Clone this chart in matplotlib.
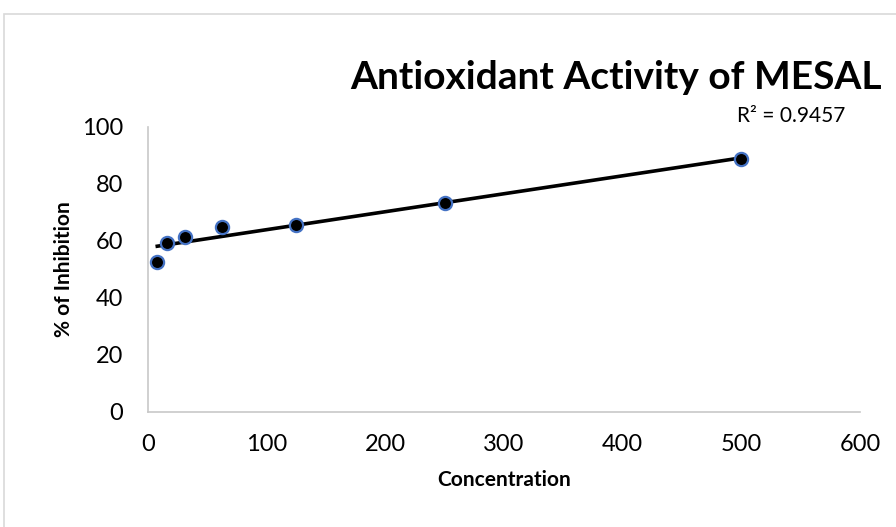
#Antioxidant activity scatter with linear trendline
import numpy as np
import matplotlib.pyplot as plt
from matplotlib.patches import Rectangle

plt.rcParams['font.family'] = ['Lato', 'DejaVu Sans']

concentration = [7.8125, 15.625, 31.25, 62.5, 125, 250, 500]
inhibition = [52.6, 59.3, 61.4, 64.8, 65.5, 73.3, 88.6]
x_ticks = [0, 100, 200, 300, 400, 500, 600]
y_ticks = [0, 20, 40, 60, 80, 100]

fig = plt.figure(figsize=(8.96, 5.27), dpi=100)
ax = fig.add_axes([0.1652, 0.2188, 0.7946, 0.5408])

# chart area frame (right and bottom edges fall outside the picture)
fig.patches.append(Rectangle((4 / 896, -0.1), 1.1, 0.1 + (527 - 14) / 527,
                             transform=fig.transFigure, fill=False,
                             edgecolor="#d9d9d9", linewidth=1.2))

# linear trendline
slope, intercept = np.polyfit(concentration, inhibition, 1)
xs = np.array([min(concentration), max(concentration)])
ax.plot(xs, slope * xs + intercept, color="black", linewidth=2.6, zorder=2)

ax.plot(concentration, inhibition, linestyle="none", marker="o",
        markersize=9.5, markerfacecolor="black", markeredgecolor="#4472c4",
        markeredgewidth=1.6, zorder=3)

ax.set_xlim(0, 600)
ax.set_ylim(0, 100)
ax.set_xticks(x_ticks)
ax.set_yticks(y_ticks)
ax.tick_params(length=0, labelsize=17, pad=16, colors="black")
ax.tick_params(axis="y", pad=18)

for s in ["top", "right"]:
    ax.spines[s].set_visible(False)
for s in ["left", "bottom"]:
    ax.spines[s].set_color("#c8c8c8")
    ax.spines[s].set_linewidth(1.2)

ax.set_xlabel("Concentration", fontsize=15, fontweight="bold")
ax.set_ylabel("% of Inhibition", fontsize=15, fontweight="bold")
ax.xaxis.set_label_coords(0.5, -0.206)
ax.yaxis.set_label_coords(-0.104, 0.5)

fig.text(0.687, 0.852, "Antioxidant Activity of MESAL", fontsize=28,
         fontweight="bold", ha="center", va="center")
fig.text(0.883, 0.779, "R² = 0.9457", fontsize=15, ha="center", va="center")

plt.savefig("out.png", dpi=100)
